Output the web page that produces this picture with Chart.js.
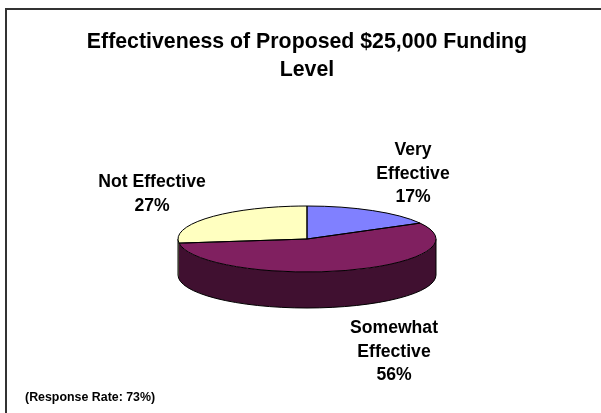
<!DOCTYPE html>
<html>
<head>
<meta charset="utf-8">
<title>Effectiveness of Proposed $25,000 Funding Level</title>
<script src="https://cdn.jsdelivr.net/npm/chart.js@4/dist/chart.umd.min.js"></script>
<style>
  html, body { margin: 0; padding: 0; background: #fff; }
  #wrap { width: 601px; height: 413px; }
</style>
</head>
<body>
<div id="wrap"><canvas id="pie" width="601" height="413"></canvas></div>
<script>
const categories = [['Very', 'Effective'], ['Somewhat', 'Effective'], ['Not Effective']];
const shares = [17, 56, 27];
const topColors = ['#8080ff', '#802060', '#ffffc0'];
const sideColors = ['#404080', '#401030', '#808060'];
const titleLines = ['Effectiveness of Proposed $25,000 Funding', 'Level'];
const footnote = '(Response Rate: 73%)';

const FONT = '"Liberation Sans", Arial, sans-serif';
const PIE = { cy: 239, rx: 129, ry: 33, depth: 36 };
// x centre and first baseline for each slice label
const LABEL_POS = [
  { x: 413, y: 155 },
  { x: 394, y: 333 },
  { x: 152, y: 187 }
];

// Squashes the round pie into a disc and gives it a side wall
const discPlugin = {
  id: 'disc',
  beforeDatasetsDraw(chart) {
    const arcs = chart.getDatasetMeta(0).data;
    const { ctx } = chart;
    const cx = arcs[0].x;

    ctx.save();
    arcs.forEach((arc, i) => {
      const from = Math.max(arc.startAngle, 0);
      const to = Math.min(arc.endAngle, Math.PI);
      if (to <= from) return;
      ctx.beginPath();
      ctx.ellipse(cx, PIE.cy, PIE.rx, PIE.ry, 0, from, to);
      ctx.ellipse(cx, PIE.cy + PIE.depth, PIE.rx, PIE.ry, 0, to, from, true);
      ctx.closePath();
      ctx.fillStyle = sideColors[i];
      ctx.fill();
    });
    ctx.beginPath();
    ctx.ellipse(cx, PIE.cy + PIE.depth, PIE.rx, PIE.ry, 0, 0, Math.PI);
    ctx.moveTo(cx - PIE.rx, PIE.cy);
    ctx.lineTo(cx - PIE.rx, PIE.cy + PIE.depth);
    ctx.moveTo(cx + PIE.rx, PIE.cy);
    ctx.lineTo(cx + PIE.rx, PIE.cy + PIE.depth);
    ctx.strokeStyle = '#000';
    ctx.lineWidth = 1;
    ctx.stroke();
    ctx.restore();

    ctx.save();
    ctx.translate(cx, PIE.cy);
    ctx.scale(PIE.rx / arcs[0].outerRadius, PIE.ry / arcs[0].outerRadius);
    ctx.translate(-cx, -arcs[0].y);
  },
  afterDatasetsDraw(chart) {
    const arcs = chart.getDatasetMeta(0).data;
    const { ctx } = chart;
    ctx.restore();

    // slice outlines go on after the transform so the line stays even
    ctx.save();
    ctx.strokeStyle = '#000';
    ctx.lineWidth = 1;
    arcs.forEach(arc => {
      ctx.beginPath();
      ctx.moveTo(arc.x, PIE.cy);
      ctx.ellipse(arc.x, PIE.cy, PIE.rx, PIE.ry, 0, arc.startAngle, arc.endAngle);
      ctx.closePath();
      ctx.stroke();
    });
    ctx.restore();
  }
};

// Slice labels, footnote and the frame lines along the top and left
const annotationPlugin = {
  id: 'annotations',
  afterDraw(chart) {
    const { ctx } = chart;
    ctx.save();

    ctx.strokeStyle = '#333';
    ctx.lineWidth = 2;
    ctx.beginPath();
    ctx.moveTo(6, 413);
    ctx.lineTo(6, 9);
    ctx.lineTo(601, 9);
    ctx.stroke();

    ctx.fillStyle = '#000';
    ctx.textBaseline = 'alphabetic';
    ctx.textAlign = 'center';
    ctx.font = 'bold 17.6px ' + FONT;
    categories.forEach((lines, i) => {
      const all = lines.concat(shares[i] + '%');
      all.forEach((text, n) => {
        ctx.fillText(text, LABEL_POS[i].x, LABEL_POS[i].y + n * 23.5);
      });
    });

    ctx.textAlign = 'left';
    ctx.font = 'bold 12.4px ' + FONT;
    ctx.fillText(footnote, 25, 401);
    ctx.restore();
  }
};

new Chart(document.getElementById('pie'), {
  type: 'pie',
  data: {
    labels: categories.map(c => c.join(' ')),
    datasets: [{
      data: shares,
      backgroundColor: topColors,
      borderWidth: 0,
      radius: 129
    }]
  },
  options: {
    responsive: false,
    animation: false,
    layout: { padding: { left: 13 } },
    plugins: {
      legend: { display: false },
      tooltip: { enabled: false },
      title: {
        display: true,
        text: titleLines,
        color: '#000',
        font: { family: FONT, size: 21.3, weight: 'bold', lineHeight: 1.315 },
        padding: { top: 28.5, bottom: 10 }
      }
    }
  },
  plugins: [discPlugin, annotationPlugin]
});
</script>
</body>
</html>
